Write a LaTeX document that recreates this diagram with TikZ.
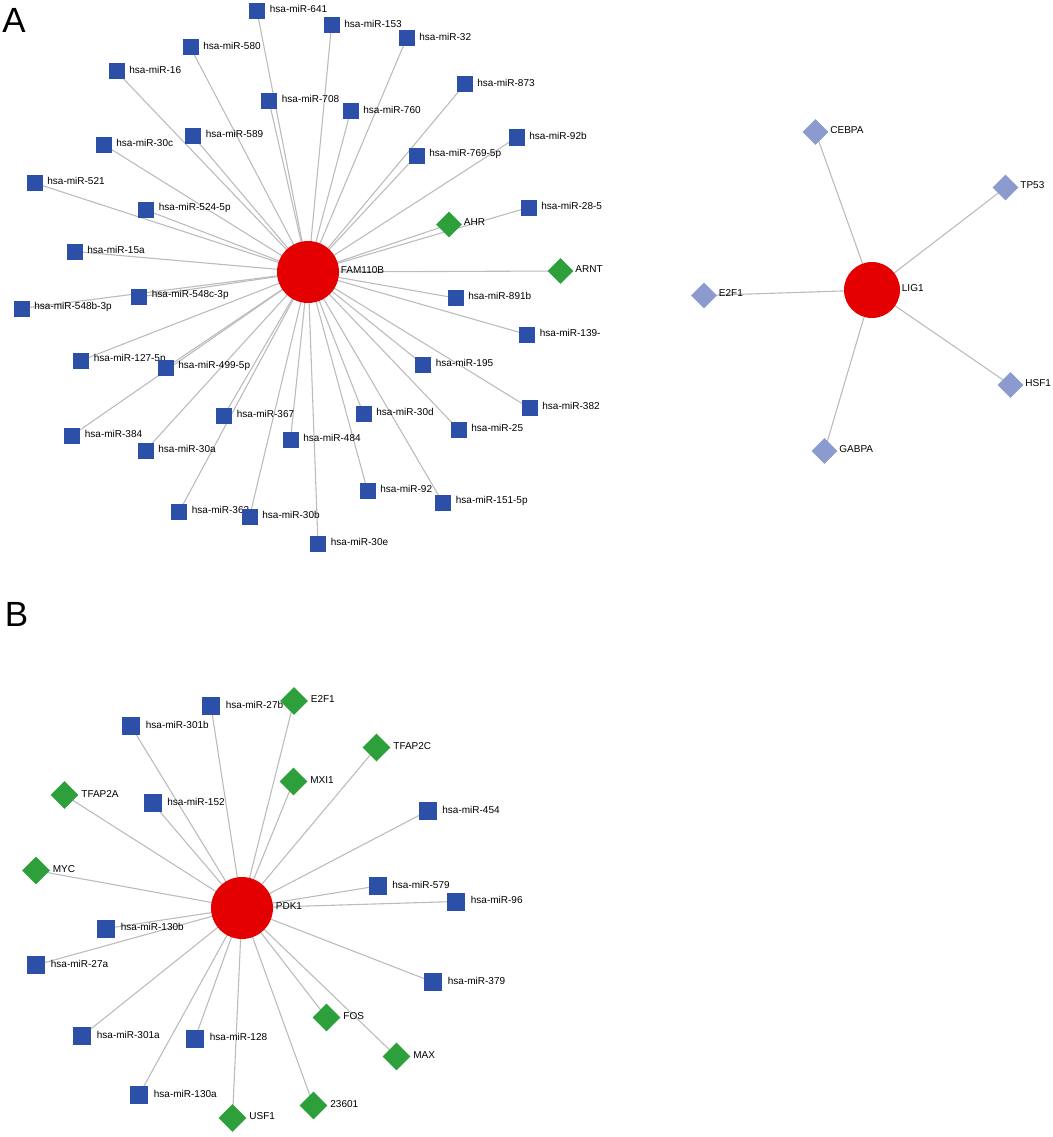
\documentclass[tikz,border=0pt]{standalone}
\usepackage{fontspec}
\setmainfont{Liberation Sans}
\usepackage{tikz}
\usetikzlibrary{shapes.geometric}
\definecolor{hubred}{RGB}{228,0,0}
\definecolor{mirblue}{RGB}{44,79,168}
\definecolor{tfgreen}{RGB}{45,160,60}
\definecolor{tflight}{RGB}{139,155,208}
\definecolor{edgegray}{RGB}{188,188,188}
\pgfdeclarelayer{back}
\pgfsetlayers{back,main}

\begin{document}
\begin{tikzpicture}[x=1pt,y=-1pt,
	lbl/.style={font=\fontsize{10}{12}\selectfont, inner sep=0.5pt, xshift=4pt, yshift=2pt},
	tlbl/.style={lbl, xshift=-3pt},
	mir/.style={rectangle, fill=mirblue, minimum size=16pt, inner sep=0pt},
	tf/.style={diamond, shape aspect=1, fill=tfgreen, minimum size=26pt, inner sep=0pt},
	tfl/.style={tf, fill=tflight},
	hub/.style={circle, fill=hubred, minimum size=62pt, inner sep=0pt},
	edge/.style={draw=edgegray, line width=1.1pt},
	panel/.style={font=\fontsize{35}{35}\selectfont, inner sep=0pt}]
\useasboundingbox (0,0) rectangle (1052,1137);

% panel A, FAM110B
\node[panel] (pa) at (14,20) {A};
\begin{scope}
	\clip (0,0) rectangle (603,580);
	\node[hub, label={[tlbl]right:FAM110B}] (fam) at (308,272) {};
	\node[mir, label={[lbl]right:hsa-miR-641}] (m641) at (257,11) {};
	\node[mir, label={[lbl]right:hsa-miR-153}] (m153) at (331.5,25.5) {};
	\node[mir, label={[lbl]right:hsa-miR-32}] (m32) at (406.5,38.5) {};
	\node[mir, label={[lbl]right:hsa-miR-580}] (m580) at (190.5,47.5) {};
	\node[mir, label={[lbl]right:hsa-miR-16}] (m16) at (116.5,71.5) {};
	\node[mir, label={[lbl]right:hsa-miR-873}] (m873) at (464.5,84.5) {};
	\node[mir, label={[lbl]right:hsa-miR-708}] (m708) at (269,101) {};
	\node[mir, label={[lbl]right:hsa-miR-760}] (m760) at (350.5,111.5) {};
	\node[mir, label={[lbl]right:hsa-miR-589}] (m589) at (193,136) {};
	\node[mir, label={[lbl]right:hsa-miR-92b}] (m92b) at (516.5,137.5) {};
	\node[mir, label={[lbl]right:hsa-miR-30c}] (m30c) at (103.5,144.5) {};
	\node[mir, label={[lbl]right:hsa-miR-769-5p}] (m7695p) at (416.5,155.5) {};
	\node[mir, label={[lbl]right:hsa-miR-521}] (m521) at (34.5,183) {};
	\node[mir, label={[lbl]right:hsa-miR-28-5}] (m285) at (528.5,207.5) {};
	\node[mir, label={[lbl]right:hsa-miR-524-5p}] (m5245p) at (146,210) {};
	\node[tf, label={[tlbl]right:AHR}] (ahr) at (449,224.5) {};
	\node[mir, label={[lbl]right:hsa-miR-15a}] (m15a) at (74.5,251.5) {};
	\node[tf, label={[tlbl]right:ARNT}] (arnt) at (560.5,271) {};
	\node[mir, label={[lbl]right:hsa-miR-548c-3p}] (m548c) at (139,297) {};
	\node[mir, label={[lbl]right:hsa-miR-891b}] (m891b) at (455.5,298) {};
	\node[mir, label={[lbl]right:hsa-miR-548b-3p}] (m548b) at (21.5,308.5) {};
	\node[mir, label={[lbl]right:hsa-miR-139-}] (m139) at (527,334.5) {};
	\node[mir, label={[lbl]right:hsa-miR-127-5p}] (m1275p) at (81,360.5) {};
	\node[mir, label={[lbl]right:hsa-miR-195}] (m195) at (423,364.5) {};
	\node[mir, label={[lbl]right:hsa-miR-499-5p}] (m4995p) at (165.5,368) {};
	\node[mir, label={[lbl]right:hsa-miR-382}] (m382) at (529.5,408) {};
	\node[mir, label={[lbl]right:hsa-miR-30d}] (m30d) at (363.5,414) {};
	\node[mir, label={[lbl]right:hsa-miR-367}] (m367) at (224,415.5) {};
	\node[mir, label={[lbl]right:hsa-miR-25}] (m25) at (458.5,429.5) {};
	\node[mir, label={[lbl]right:hsa-miR-384}] (m384) at (72,435.5) {};
	\node[mir, label={[lbl]right:hsa-miR-484}] (m484) at (290.5,439.5) {};
	\node[mir, label={[lbl]right:hsa-miR-30a}] (m30a) at (145.5,450.5) {};
	\node[mir, label={[lbl]right:hsa-miR-92}] (m92) at (367.5,491) {};
	\node[mir, label={[lbl]right:hsa-miR-151-5p}] (m1515p) at (443,503) {};
	\node[mir, label={[lbl]right:hsa-miR-363}] (m363) at (179,512) {};
	\node[mir, label={[lbl]right:hsa-miR-30b}] (m30b) at (249.5,517) {};
	\node[mir, label={[lbl]right:hsa-miR-30e}] (m30e) at (318,544) {};
\end{scope}

% panel A, LIG1
\node[hub, minimum size=56pt, label={[tlbl]right:LIG1}] (lig) at (872,290) {};
\node[tfl, label={[tlbl]right:CEBPA}] (cebpa) at (815.5,132) {};
\node[tfl, label={[tlbl]right:TP53}] (tp53) at (1005.5,187.5) {};
\node[tfl, label={[tlbl]right:E2F1}] (e2f1) at (704,295.5) {};
\node[tfl, label={[tlbl]right:HSF1}] (hsf1) at (1010.5,385) {};
\node[tfl, label={[tlbl]right:GABPA}] (gabpa) at (824.5,451) {};

% panel B, PDK1
\node[panel] (pb) at (16.5,614.5) {B};
\begin{scope}[mir/.append style={minimum size=18pt},
	tf/.append style={minimum size=28pt},
	lbl/.append style={xshift=1pt, yshift=-0.5pt}]
	\node[hub, label={[tlbl]right:PDK1}] (pdk) at (242,908) {};
	\node[mir, label={[lbl]right:hsa-miR-27b}] (b27b) at (211,706) {};
	\node[tf, label={[tlbl]right:E2F1}] (be2f1) at (294,701) {};
	\node[mir, label={[lbl]right:hsa-miR-301b}] (b301b) at (131,726) {};
	\node[tf, label={[tlbl]right:TFAP2C}] (btfap2c) at (376.5,747.5) {};
	\node[tf, label={[tlbl]right:TFAP2A}] (btfap2a) at (64.5,795) {};
	\node[mir, label={[lbl]right:hsa-miR-152}] (b152) at (152.5,803) {};
	\node[tf, label={[tlbl]right:MXI1}] (bmxi1) at (293.5,781.5) {};
	\node[mir, label={[lbl]right:hsa-miR-454}] (b454) at (427.5,811) {};
	\node[tf, label={[tlbl]right:MYC}] (bmyc) at (36,870.5) {};
	\node[mir, label={[lbl]right:hsa-miR-579}] (b579) at (377.5,886) {};
	\node[mir, label={[lbl]right:hsa-miR-96}] (b96) at (456,901.5) {};
	\node[mir, label={[lbl]right:hsa-miR-130b}] (b130b) at (106,928.5) {};
	\node[mir, label={[lbl]right:hsa-miR-27a}] (b27a) at (36,965) {};
	\node[mir, label={[lbl]right:hsa-miR-379}] (b379) at (433,982) {};
	\node[tf, label={[tlbl]right:FOS}] (bfos) at (326.5,1017.5) {};
	\node[mir, label={[lbl]right:hsa-miR-301a}] (b301a) at (82,1036) {};
	\node[mir, label={[lbl]right:hsa-miR-128}] (b128) at (195,1038.5) {};
	\node[tf, label={[tlbl]right:MAX}] (bmax) at (396.5,1056.5) {};
	\node[mir, label={[lbl]right:hsa-miR-130a}] (b130a) at (139,1095) {};
	\node[tf, label={[tlbl]right:23601}] (b23601) at (313.5,1105.5) {};
	\node[tf, label={[tlbl]right:USF1}] (busf1) at (232.5,1118) {};
\end{scope}

% connectors, behind the nodes
\begin{pgfonlayer}{back}
	\foreach \n in {m641,m153,m32,m580,m16,m873,m708,m760,m589,m92b,m30c,m7695p,
		m521,m285,m5245p,ahr,m15a,arnt,m548c,m891b,m548b,m139,m1275p,m195,m4995p,
		m382,m30d,m367,m25,m384,m484,m30a,m92,m1515p,m363,m30b,m30e}
		\draw[edge] (fam.center) -- (\n.center);
	\foreach \n in {cebpa,tp53,e2f1,hsf1,gabpa}
		\draw[edge] (lig.center) -- (\n.center);
	\foreach \n in {b27b,be2f1,b301b,btfap2c,btfap2a,b152,bmxi1,b454,bmyc,b579,b96,
		b130b,b27a,b379,bfos,b301a,b128,bmax,b130a,b23601,busf1}
		\draw[edge] (pdk.center) -- (\n.center);
\end{pgfonlayer}
\end{tikzpicture}
\end{document}
